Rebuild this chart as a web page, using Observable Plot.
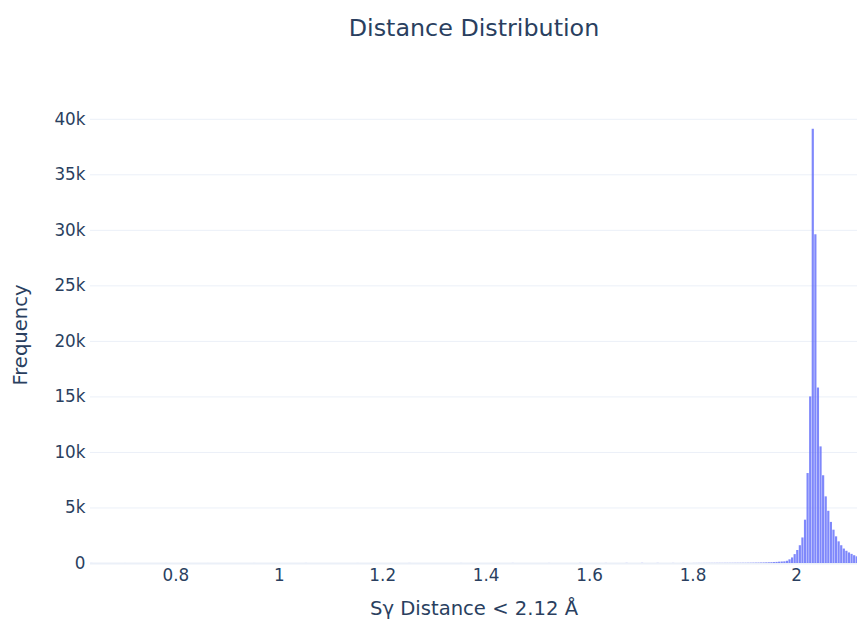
<!DOCTYPE html>
<html>
<head>
<meta charset="utf-8">
<script src="https://cdn.jsdelivr.net/npm/d3@7"></script>
<script src="https://cdn.jsdelivr.net/npm/@observablehq/plot@0.6"></script>
<style>
  html, body { margin: 0; padding: 0; background: #fff; }
  #title { height: 50px; box-sizing: border-box; padding-top: 14px; padding-left: 91px; text-align: center;
    font-family: "DejaVu Sans", Verdana, sans-serif; font-size: 23.8px; color: #2a3f5f; line-height: normal; white-space: nowrap; }
  #chart { width: 857px; }
</style>
</head>
<body>
<div id="title">Distance Distribution</div>
<div id="chart"></div>
<script>
const titleText = "Distance Distribution";
const xLabel = "Sγ Distance < 2.12 Å";
const yLabel = "Frequency";
const binWidth = 0.005;
const xTicks = [0.8, 1, 1.2, 1.4, 1.6, 1.8, 2];
const yTicks = [0, 5000, 10000, 15000, 20000, 25000, 30000, 35000, 40000];

const binStart = [
  0.635, 0.70, 0.78, 0.86, 0.95, 1.05, 1.15, 1.25, 1.35, 1.45, 1.52, 1.58, 1.63, 1.67, 1.70, 1.73, 1.76, 1.78,
  1.800, 1.805, 1.810, 1.815, 1.820, 1.825, 1.830, 1.835, 1.840, 1.845,
  1.850, 1.855, 1.860, 1.865, 1.870, 1.875, 1.880, 1.885, 1.890, 1.895,
  1.900, 1.905, 1.910, 1.915, 1.920, 1.925, 1.930, 1.935, 1.940, 1.945,
  1.950, 1.955, 1.960, 1.965, 1.970, 1.975, 1.980, 1.985, 1.990, 1.995,
  2.000, 2.005, 2.010, 2.015, 2.020, 2.025, 2.030, 2.035, 2.040, 2.045,
  2.050, 2.055, 2.060, 2.065, 2.070, 2.075, 2.080, 2.085, 2.090, 2.095,
  2.100, 2.105, 2.110, 2.115
];
const counts = [
  3, 1, 2, 1, 2, 3, 2, 4, 3, 5, 4, 7, 6, 9, 11, 8, 6, 5,
  5, 6, 7, 6, 8, 9, 10, 9, 11, 12,
  13, 12, 14, 15, 14, 16, 17, 18, 19, 21,
  22, 24, 27, 30, 33, 37, 42, 48, 55, 62,
  72, 85, 100, 120, 135, 150, 200, 330, 500, 800,
  1170, 1600, 2300, 3900, 8100, 15000, 39100, 29600, 15800, 10500,
  7900, 6000, 4700, 3700, 3000, 2400, 1950, 1600, 1300, 1100,
  950, 820, 700, 600
];

const bins = binStart.map((x0, i) => ({x0, x1: x0 + binWidth, count: counts[i]}));

const chart = Plot.plot({
  width: 857,
  height: 577,
  marginLeft: 90,
  marginRight: 0,
  marginTop: 56,
  marginBottom: 64,
  style: {fontFamily: "DejaVu Sans, Verdana, sans-serif", fontSize: "16.8px", color: "#2a3f5f", background: "#fff"},
  x: {domain: [0.635, 2.118]},
  y: {domain: [0, 41150]},
  marks: [
    Plot.ruleY(yTicks.filter(d => d !== 0), {stroke: "#ebf0f8", strokeWidth: 1}),
    Plot.ruleY([0], {stroke: "#ebf0f8", strokeWidth: 2}),
    Plot.rectY(bins, {x1: "x0", x2: "x1", y: "count", fill: "#636efa", fillOpacity: 0.82, insetLeft: 0.2, insetRight: 0.2}),
    Plot.axisX({ticks: xTicks, tickSize: 0, tickPadding: 6, tickFormat: d => String(d), label: null}),
    Plot.axisY({ticks: yTicks, tickSize: 0, tickPadding: 5, tickFormat: d => d === 0 ? "0" : (d / 1000) + "k", label: null}),
    Plot.text([xLabel], {frameAnchor: "bottom", dy: 51, text: d => d, textAnchor: "middle", fontSize: 19.6, fill: "#2a3f5f"}),
    Plot.text([yLabel], {frameAnchor: "left", dx: -70, rotate: -90, text: d => d, textAnchor: "middle", lineAnchor: "middle", fontSize: 19.6, fill: "#2a3f5f"})
  ]
});
document.getElementById("chart").appendChild(chart);
</script>
</body>
</html>
